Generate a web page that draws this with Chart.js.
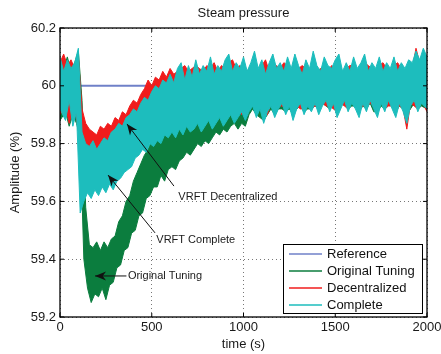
<!DOCTYPE html>
<html>
<head>
<meta charset="utf-8">
<script src="https://cdn.jsdelivr.net/npm/chart.js@4.4.1/dist/chart.umd.min.js"></script>
<style>
html, body { margin: 0; padding: 0; background: #fff; }
#wrap { width: 441px; height: 354px; position: relative; }
</style>
</head>
<body>
<div id="wrap"><canvas id="chart-steam"></canvas></div>
<script>
'use strict';

//
// Steam pressure
//

// noisy traces are stored as their upper (peak) and lower (trough) samples
var peakTimes = [
  0, 20, 40, 60, 80, 100, 120, 140, 160, 180,
  200, 220, 240, 260, 280, 300, 320, 340, 360, 380,
  400, 420, 440, 460, 480, 500, 520, 540, 560, 580,
  600, 620, 640, 660, 680, 700, 720, 740, 760, 780,
  800, 820, 840, 860, 880, 900, 920, 940, 960, 980,
  1000, 1020, 1040, 1060, 1080, 1100, 1120, 1140, 1160, 1180,
  1200, 1220, 1240, 1260, 1280, 1300, 1320, 1340, 1360, 1380,
  1400, 1420, 1440, 1460, 1480, 1500, 1520, 1540, 1560, 1580,
  1600, 1620, 1640, 1660, 1680, 1700, 1720, 1740, 1760, 1780,
  1800, 1820, 1840, 1860, 1880, 1900, 1920, 1940, 1960, 1980,
  2000
];
var troughTimes = [
  0, 30, 50, 70, 90, 110, 130, 150, 170, 190,
  210, 230, 250, 270, 290, 310, 330, 350, 370, 390,
  410, 430, 450, 470, 490, 510, 530, 550, 570, 590,
  610, 630, 650, 670, 690, 710, 730, 750, 770, 790,
  810, 830, 850, 870, 890, 910, 930, 950, 970, 990,
  1010, 1030, 1050, 1070, 1090, 1110, 1130, 1150, 1170, 1190,
  1210, 1230, 1250, 1270, 1290, 1310, 1330, 1350, 1370, 1390,
  1410, 1430, 1450, 1470, 1490, 1510, 1530, 1550, 1570, 1590,
  1610, 1630, 1650, 1670, 1690, 1710, 1730, 1750, 1770, 1790,
  1810, 1830, 1850, 1870, 1890, 1910, 1930, 1950, 1970, 2000
];

var refTimes = [0, 2000];
var refValues = [60, 60];

var originalHigh = [
  60.09, 60.06, 60.10, 60.05, 60.08, 60.12, 59.95, 59.58, 59.45, 59.44,
  59.46, 59.43, 59.46, 59.44, 59.47, 59.48, 59.53, 59.55, 59.60, 59.62,
  59.67, 59.70, 59.73, 59.76, 59.78, 59.81, 59.83, 59.84, 59.86, 59.87,
  59.89, 59.90, 59.92, 59.91, 59.94, 59.95, 59.96, 59.95, 59.98, 59.97,
  59.99, 60.01, 60.00, 60.02, 60.01, 60.03, 60.04, 60.02, 60.05, 60.04,
  60.06, 60.04, 60.06, 60.07, 60.05, 60.06, 60.03, 60.06, 60.07, 60.05,
  60.06, 60.04, 60.07, 60.05, 60.06, 60.05, 60.03, 60.06, 60.05, 60.07,
  60.05, 60.04, 60.07, 60.05, 60.05, 60.06, 60.07, 60.04, 60.06, 60.04,
  60.07, 60.05, 60.06, 60.07, 60.04, 60.06, 60.05, 60.07, 60.04, 60.06,
  60.05, 60.07, 60.04, 60.06, 60.05, 60.06, 60.06, 60.08, 60.07, 60.09,
  60.07
];
var originalLow = [
  59.88, 59.91, 59.86, 59.90, 59.87, 59.82, 59.40, 59.30, 59.25, 59.28,
  59.27, 59.30, 59.26, 59.31, 59.32, 59.37, 59.38, 59.43, 59.44, 59.49,
  59.50, 59.55, 59.56, 59.61, 59.62, 59.65, 59.65, 59.69, 59.67, 59.71,
  59.72, 59.71, 59.74, 59.75, 59.77, 59.76, 59.78, 59.80, 59.79, 59.81,
  59.80, 59.82, 59.84, 59.83, 59.85, 59.84, 59.86, 59.87, 59.85, 59.87,
  59.86, 59.90, 59.92, 59.90, 59.89, 59.88, 59.90, 59.92, 59.90, 59.92,
  59.92, 59.91, 59.92, 59.90, 59.92, 59.93, 59.91, 59.92, 59.92, 59.93,
  59.92, 59.94, 59.93, 59.92, 59.94, 59.91, 59.93, 59.94, 59.92, 59.93,
  59.93, 59.91, 59.93, 59.92, 59.94, 59.91, 59.91, 59.93, 59.92, 59.94,
  59.93, 59.91, 59.93, 59.92, 59.90, 59.92, 59.94, 59.92, 59.93, 59.92
];

var decentralHigh = [
  60.08, 60.11, 60.07, 60.09, 60.06, 60.10, 59.92, 59.87, 59.85, 59.84,
  59.83, 59.86, 59.85, 59.87, 59.86, 59.89, 59.88, 59.91, 59.90, 59.93,
  59.95, 59.94, 59.97, 59.99, 60.02, 60.00, 60.03, 60.02, 60.05, 60.03,
  60.06, 60.04, 60.05, 60.06, 60.07, 60.05, 60.06, 60.07, 60.06, 60.05,
  60.07, 60.06, 60.08, 60.05, 60.07, 60.06, 60.08, 60.09, 60.06, 60.07,
  60.06, 60.05, 60.07, 60.06, 60.04, 60.07, 60.09, 60.05, 60.06, 60.07,
  60.06, 60.08, 60.07, 60.05, 60.08, 60.06, 60.07, 60.06, 60.05, 60.08,
  60.05, 60.06, 60.07, 60.05, 60.07, 60.06, 60.08, 60.04, 60.06, 60.07,
  60.07, 60.05, 60.06, 60.08, 60.07, 60.06, 60.05, 60.07, 60.08, 60.06,
  60.05, 60.07, 60.08, 60.06, 60.05, 60.07, 60.06, 60.13, 60.08, 60.11,
  60.08
];
var decentralLow = [
  59.90, 59.93, 59.87, 59.92, 59.89, 59.80, 59.76, 59.78, 59.75, 59.77,
  59.76, 59.78, 59.77, 59.79, 59.80, 59.81, 59.83, 59.84, 59.85, 59.87,
  59.86, 59.88, 59.89, 59.90, 59.89, 59.91, 59.90, 59.92, 59.91, 59.90,
  59.92, 59.91, 59.93, 59.90, 59.92, 59.91, 59.93, 59.90, 59.92, 59.94,
  59.91, 59.93, 59.90, 59.92, 59.91, 59.89, 59.93, 59.91, 59.92, 59.90,
  59.92, 59.93, 59.94, 59.92, 59.93, 59.91, 59.90, 59.94, 59.92, 59.93,
  59.93, 59.92, 59.94, 59.91, 59.93, 59.92, 59.92, 59.94, 59.92, 59.93,
  59.92, 59.94, 59.93, 59.93, 59.92, 59.91, 59.94, 59.93, 59.92, 59.95,
  59.93, 59.92, 59.93, 59.93, 59.94, 59.93, 59.91, 59.95, 59.92, 59.93,
  59.93, 59.92, 59.93, 59.92, 59.85, 59.94, 59.93, 59.92, 59.95, 59.91
];

var completeHigh = [
  60.10, 60.05, 60.09, 60.06, 60.08, 60.13, 59.84, 59.80, 59.79, 59.81,
  59.78, 59.80, 59.82, 59.81, 59.84, 59.85, 59.87, 59.86, 59.89, 59.90,
  59.92, 59.91, 59.94, 59.96, 59.95, 59.98, 60.00, 59.99, 60.02, 60.01,
  60.04, 60.01, 60.06, 60.08, 60.02, 60.07, 60.03, 60.09, 60.04, 60.07,
  60.05, 60.10, 60.04, 60.07, 60.05, 60.09, 60.11, 60.05, 60.08, 60.06,
  60.10, 60.05, 60.08, 60.12, 60.06, 60.09, 60.04, 60.08, 60.11, 60.06,
  60.08, 60.05, 60.10, 60.06, 60.11, 60.07, 60.04, 60.09, 60.06, 60.12,
  60.07, 60.05, 60.10, 60.07, 60.06, 60.09, 60.11, 60.05, 60.08, 60.05,
  60.10, 60.06, 60.08, 60.11, 60.05, 60.08, 60.06, 60.10, 60.05, 60.08,
  60.06, 60.10, 60.05, 60.08, 60.06, 60.09, 60.08, 60.12, 60.09, 60.13,
  60.10
];
var completeLow = [
  59.92, 59.88, 59.95, 59.86, 59.91, 59.56, 59.60, 59.63, 59.61, 59.64,
  59.62, 59.65, 59.63, 59.66, 59.64, 59.67, 59.68, 59.70, 59.71, 59.72,
  59.75, 59.76, 59.78, 59.77, 59.80, 59.79, 59.81, 59.80, 59.83, 59.82,
  59.84, 59.82, 59.85, 59.83, 59.86, 59.84, 59.85, 59.87, 59.84, 59.86,
  59.88, 59.85, 59.87, 59.89, 59.86, 59.88, 59.90, 59.87, 59.89, 59.91,
  59.88, 59.91, 59.93, 59.89, 59.92, 59.87, 59.91, 59.93, 59.89, 59.92,
  59.94, 59.90, 59.93, 59.88, 59.92, 59.94, 59.90, 59.93, 59.91, 59.94,
  59.90, 59.93, 59.95, 59.91, 59.94, 59.89, 59.92, 59.95, 59.91, 59.94,
  59.92, 59.89, 59.94, 59.91, 59.95, 59.92, 59.89, 59.94, 59.91, 59.95,
  59.92, 59.89, 59.94, 59.91, 59.87, 59.93, 59.95, 59.91, 59.94, 59.92
];

var xTicks = [0, 500, 1000, 1500, 2000];
var yTicks = [59.2, 59.4, 59.6, 59.8, 60, 60.2];

var seriesNames = ['Reference', 'Original Tuning', 'Decentralized', 'Complete'];
var seriesColors = ['#6f80c8', '#0b7d3e', '#f01c1c', '#1dbdbd'];

// arrows: text, arrow tip, arrow tail, text anchor (all in data units)
var notes = [
  { text: 'VRFT Decentralized', tip: [365, 59.868], tail: [621, 59.653], at: [645, 59.617] },
  { text: 'VRFT Complete', tip: [262, 59.691], tail: [518, 59.491], at: [525, 59.466] },
  { text: 'Original Tuning', tip: [191, 59.342], tail: [362, 59.342], at: [370, 59.342] }
];

var FONT = '"Liberation Sans", Arial, Helvetica, sans-serif';

function pairs(xs, ys) {
  return xs.map(function(x, i) { return { x: x, y: ys[i] }; });
}

// a noisy trace = band between its peak line and its trough line
function band(k, high, low, order) {
  return [
    { label: seriesNames[k], data: pairs(peakTimes, high), borderColor: seriesColors[k],
      borderWidth: 1, fill: false, order: order + 1 },
    { label: seriesNames[k] + ' low', data: pairs(troughTimes, low), borderColor: seriesColors[k],
      backgroundColor: seriesColors[k], borderWidth: 1, fill: '-1', order: order }
  ];
}

var frame = {
  id: 'matlabFrame',
  afterDatasetsDraw: function(chart) {
    var ctx = chart.ctx, a = chart.chartArea;
    var xs = chart.scales.x, ys = chart.scales.y;
    ctx.save();

    // annotation arrows
    ctx.strokeStyle = '#111';
    ctx.fillStyle = '#111';
    ctx.lineWidth = 1;
    notes.forEach(function(n) {
      var tx = xs.getPixelForValue(n.tip[0]), ty = ys.getPixelForValue(n.tip[1]);
      var bx = xs.getPixelForValue(n.tail[0]), by = ys.getPixelForValue(n.tail[1]);
      ctx.beginPath();
      ctx.moveTo(bx, by);
      ctx.lineTo(tx, ty);
      ctx.stroke();
      var len = Math.hypot(tx - bx, ty - by);
      var ux = (tx - bx) / len, uy = (ty - by) / len;
      var L = 11, W = 4.5;
      ctx.beginPath();
      ctx.moveTo(tx, ty);
      ctx.lineTo(tx - L * ux - W * uy, ty - L * uy + W * ux);
      ctx.lineTo(tx - 0.7 * L * ux, ty - 0.7 * L * uy);
      ctx.lineTo(tx - L * ux + W * uy, ty - L * uy - W * ux);
      ctx.closePath();
      ctx.fill();
      ctx.font = '11px ' + FONT;
      ctx.textAlign = 'left';
      ctx.textBaseline = 'middle';
      ctx.fillStyle = '#1a1a1a';
      ctx.fillText(n.text, xs.getPixelForValue(n.at[0]), ys.getPixelForValue(n.at[1]));
      ctx.fillStyle = '#111';
    });

    // box and inward ticks
    ctx.strokeStyle = '#000';
    ctx.lineWidth = 1.3;
    ctx.strokeRect(a.left, a.top, a.right - a.left, a.bottom - a.top);
    ctx.lineWidth = 1;
    ctx.beginPath();
    xTicks.forEach(function(v) {
      var px = xs.getPixelForValue(v);
      ctx.moveTo(px, a.bottom); ctx.lineTo(px, a.bottom - 4);
      ctx.moveTo(px, a.top); ctx.lineTo(px, a.top + 4);
    });
    yTicks.forEach(function(v) {
      var py = ys.getPixelForValue(v);
      ctx.moveTo(a.left, py); ctx.lineTo(a.left + 4, py);
      ctx.moveTo(a.right, py); ctx.lineTo(a.right - 4, py);
    });
    ctx.stroke();

    // legend
    var bw = 139, bh = 69;
    var lx = a.right - 5 - bw, ly = a.bottom - 4 - bh;
    ctx.fillStyle = '#fff';
    ctx.fillRect(lx, ly, bw, bh);
    ctx.strokeStyle = '#000';
    ctx.lineWidth = 1;
    ctx.strokeRect(lx + 0.5, ly + 0.5, bw, bh);
    ctx.font = '13px ' + FONT;
    ctx.textAlign = 'left';
    ctx.textBaseline = 'middle';
    seriesNames.forEach(function(name, k) {
      var ry = ly + 10 + k * 17;
      ctx.strokeStyle = seriesColors[k];
      ctx.lineWidth = 1.5;
      ctx.beginPath();
      ctx.moveTo(lx + 6, ry);
      ctx.lineTo(lx + 39, ry);
      ctx.stroke();
      ctx.fillStyle = '#111';
      ctx.fillText(name, lx + 44, ry + 0.5);
    });
    ctx.restore();
  }
};

var axisFont = { family: FONT, size: 13 };

var datasets = [
  { label: seriesNames[0], data: pairs(refTimes, refValues), borderColor: seriesColors[0],
    borderWidth: 2, fill: false, order: 10 }
]
  .concat(band(1, originalHigh, originalLow, 7))
  .concat(band(2, decentralHigh, decentralLow, 4))
  .concat(band(3, completeHigh, completeLow, 1));

new Chart(document.getElementById('chart-steam').getContext('2d'), {
  type: 'line',
  data: { datasets: datasets },
  options: {
    responsive: true,
    maintainAspectRatio: false,
    animation: false,
    layout: { padding: { left: 0, right: 14, top: 0, bottom: 0 } },
    elements: { point: { radius: 0 }, line: { tension: 0 } },
    plugins: {
      legend: { display: false },
      tooltip: { enabled: false },
      title: {
        display: true,
        text: 'Steam pressure',
        fullSize: false,
        color: '#1a1a1a',
        font: { family: FONT, size: 13, weight: 'normal' },
        padding: { top: 6, bottom: 6.4 }
      }
    },
    scales: {
      x: {
        type: 'linear',
        min: 0,
        max: 2000,
        afterBuildTicks: function(s) { s.ticks = xTicks.map(function(v) { return { value: v }; }); },
        afterFit: function(s) { s.height = 37; s.paddingRight = 0; s.paddingLeft = 0; },
        grid: { color: '#777', drawTicks: false },
        border: { display: false, dash: [1, 3] },
        ticks: { padding: 3, maxRotation: 0, autoSkip: false, color: '#1a1a1a', font: axisFont,
          callback: function(v) { return String(v); } },
        title: { display: true, text: 'time (s)', color: '#1a1a1a', font: axisFont, padding: { top: 0, bottom: 2 } }
      },
      y: {
        type: 'linear',
        min: 59.2,
        max: 60.2,
        afterBuildTicks: function(s) { s.ticks = yTicks.map(function(v) { return { value: v }; }); },
        afterFit: function(s) { s.width = 60; s.paddingTop = 0; s.paddingBottom = 0; },
        grid: { color: '#777', drawTicks: false },
        border: { display: false, dash: [1, 3] },
        ticks: { padding: 4, color: '#1a1a1a', font: axisFont,
          callback: function(v) { return String(v); } },
        title: { display: true, text: 'Amplitude (%)', color: '#1a1a1a', font: axisFont, padding: { top: 8, bottom: 0 } }
      }
    }
  },
  plugins: [frame]
});
</script>
</body>
</html>
